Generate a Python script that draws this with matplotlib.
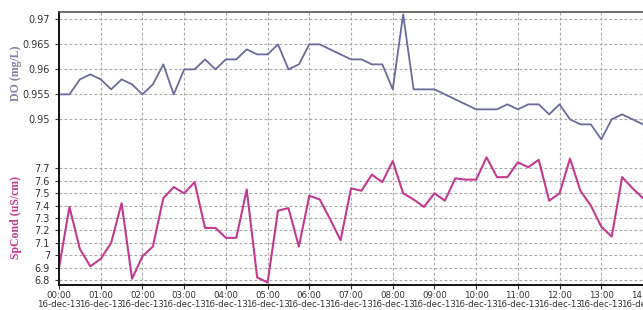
import matplotlib
matplotlib.use("Agg")
import matplotlib.pyplot as plt
import numpy as np

# time in hours, one reading every 15 minutes
hours = np.arange(0, 14.01, 0.25)

do_vals = [0.955, 0.955, 0.958, 0.959, 0.958, 0.956, 0.958, 0.957,
           0.955, 0.957, 0.961, 0.955, 0.960, 0.960, 0.962, 0.960,
           0.962, 0.962, 0.964, 0.963, 0.963, 0.965, 0.960, 0.961,
           0.965, 0.965, 0.964, 0.963, 0.962, 0.962, 0.961, 0.961,
           0.956, 0.971, 0.956, 0.956, 0.956, 0.955, 0.954, 0.953,
           0.952, 0.952, 0.952, 0.953, 0.952, 0.953, 0.953, 0.951,
           0.953, 0.950, 0.949, 0.949, 0.946, 0.950, 0.951, 0.950,
           0.949]

spcond_vals = [6.90, 7.39, 7.05, 6.91, 6.97, 7.10, 7.42, 6.81,
               6.99, 7.07, 7.46, 7.55, 7.50, 7.59, 7.22, 7.22,
               7.14, 7.14, 7.53, 6.82, 6.78, 7.36, 7.38, 7.07,
               7.48, 7.45, 7.29, 7.12, 7.54, 7.52, 7.65, 7.59,
               7.76, 7.50, 7.45, 7.39, 7.50, 7.44, 7.62, 7.61,
               7.61, 7.79, 7.63, 7.63, 7.75, 7.71, 7.77, 7.44,
               7.50, 7.78, 7.52, 7.40, 7.23, 7.15, 7.63, 7.54,
               7.46]

do_ticks = [0.95, 0.955, 0.96, 0.965, 0.97]
do_ticklabels = ["0.95", "0.955", "0.96", "0.965", "0.97"]
sp_ticks = [6.8, 6.9, 7.0, 7.1, 7.2, 7.3, 7.4, 7.5, 7.6, 7.7]
sp_ticklabels = ["6.8", "6.9", "7", "7.1", "7.2", "7.3", "7.4", "7.5", "7.6", "7.7"]
hour_ticks = list(range(0, 15))
hour_labels = ["%02d:00\n16-dec-13" % h for h in hour_ticks]

do_color = "#6a6a9c"
sp_color = "#c23a8e"
grid_kw = dict(color="#a8a8a8", linestyle=(0, (2.5, 2)), linewidth=0.8)

fig = plt.figure(figsize=(6.43, 3.10), dpi=100)
ax1 = fig.add_axes([0.0918, 0.516, 0.9082, 0.445])
ax2 = fig.add_axes([0.0918, 0.0806, 0.9082, 0.4354], sharex=ax1)

ax1.plot(hours, do_vals, color=do_color, linewidth=1.3)
ax2.plot(hours, spcond_vals, color=sp_color, linewidth=1.5)

ax1.set_xlim(0, 14.0)
ax1.set_ylim(0.94386, 0.97146)
ax2.set_ylim(6.759, 7.849)

ax1.set_yticks(do_ticks)
ax1.set_yticklabels(do_ticklabels)
ax2.set_yticks(sp_ticks)
ax2.set_yticklabels(sp_ticklabels)
ax2.set_xticks(hour_ticks)
ax2.set_xticklabels(hour_labels, linespacing=1.1)

for ax in (ax1, ax2):
    ax.grid(True, **grid_kw)
    ax.set_axisbelow(True)
    ax.spines["right"].set_visible(False)
    ax.spines["left"].set_color("#111111")
    ax.spines["left"].set_linewidth(1.4)
    ax.tick_params(axis="y", labelsize=7, colors="#333333", length=3, width=0.8)

ax1.spines["bottom"].set_visible(False)
ax1.spines["top"].set_color("#555555")
ax1.spines["top"].set_linewidth(1.2)
ax1.tick_params(axis="x", bottom=False, labelbottom=False)

ax2.spines["top"].set_visible(False)
ax2.spines["bottom"].set_color("#111111")
ax2.spines["bottom"].set_linewidth(1.4)
ax2.tick_params(axis="x", labelsize=6.2, colors="#333333", length=3, width=0.8, pad=1)

ax1.set_ylabel("DO (mg/L)", color="#8080a8", fontsize=8.5, fontweight="bold",
               family="Liberation Serif")
ax2.set_ylabel("SpCond (uS/cm)", color=sp_color, fontsize=8.5, fontweight="bold",
               family="Liberation Serif")
ax1.yaxis.set_label_coords(-0.064, 0.56)
ax2.yaxis.set_label_coords(-0.064, 0.5)

fig.savefig("out.png", dpi=100)
